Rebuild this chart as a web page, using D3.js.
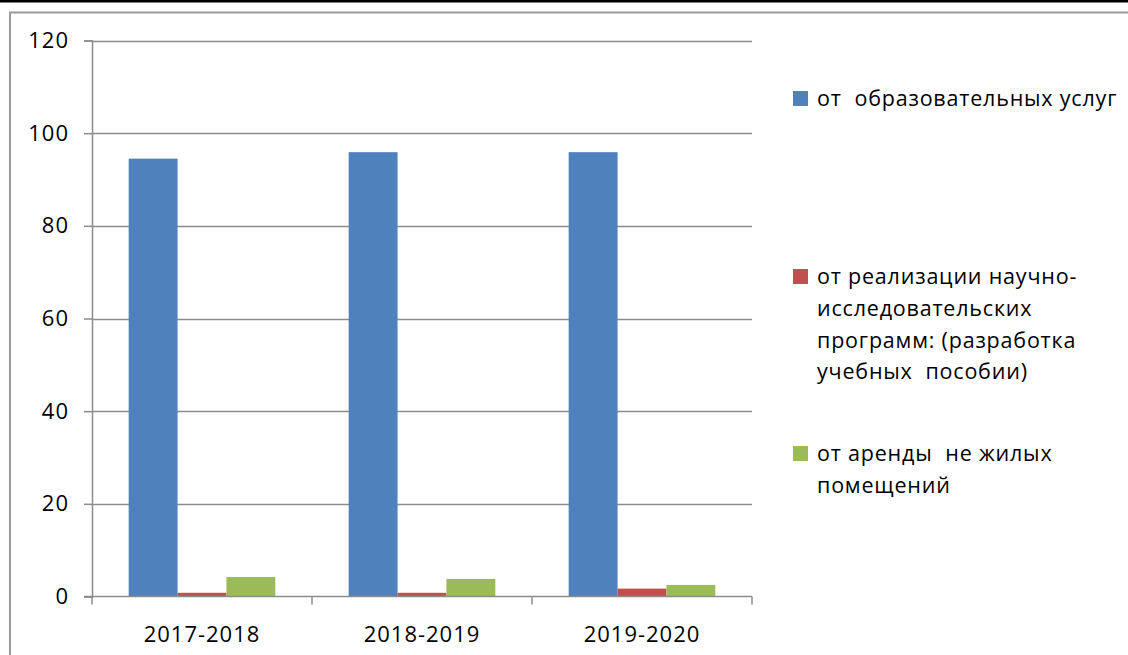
<!DOCTYPE html>
<html>
<head>
<meta charset="utf-8">
<script src="https://d3js.org/d3.v7.min.js"></script>
<style>
  body { margin: 0; background: #fff; }
  text { font-family: "Open Sans", sans-serif; fill: #000; white-space: pre; }
</style>
</head>
<body>
<script>
// Chart data
const years = ['2017-2018', '2018-2019', '2019-2020'];
const legendLines = [
  ['от  образовательных услуг'],
  ['от реализации научно-', 'исследовательских', 'программ: (разработка', 'учебных  пособии)'],
  ['от аренды  не жилых', 'помещений']
];
const eduValues = [94.5, 95.9, 95.9];
const researchValues = [0.8, 0.8, 1.7];
const rentValues = [4.2, 3.8, 2.5];
const yTicks = [0, 20, 40, 60, 80, 100, 120];
const colors = ['#4F81BD', '#C0504D', '#9BBB59'];

const width = 1128, height = 655;
const plot = { left: 92, right: 752, top: 40.5, bottom: 596.5 };

const svg = d3.select('body').append('svg')
  .attr('width', width)
  .attr('height', height);

// black strip on top and gray frame
svg.append('rect').attr('x', 0).attr('y', 0).attr('width', width).attr('height', 2.5).attr('fill', '#000');
svg.append('rect')
  .attr('x', 10).attr('y', 12.5)
  .attr('width', width + 10).attr('height', height + 10)
  .attr('fill', 'none').attr('stroke', '#9a9a9a').attr('stroke-width', 2);

const x0 = d3.scaleBand().domain(years).range([plot.left, plot.right]);
const x1 = d3.scaleBand().domain(d3.range(3))
  .range([0, x0.bandwidth()]).paddingOuter(0.75).paddingInner(0);
const y = d3.scaleLinear().domain([0, 120]).range([plot.bottom, plot.top]);

// gridlines
svg.append('g')
  .selectAll('line')
  .data(yTicks.filter(d => d > 0))
  .enter().append('line')
  .attr('x1', plot.left).attr('x2', plot.right)
  .attr('y1', d => Math.round(y(d)) + 0.5).attr('y2', d => Math.round(y(d)) + 0.5)
  .attr('stroke', '#8c8c8c').attr('stroke-width', 1.5);

// bars
const series = [eduValues, researchValues, rentValues];
series.forEach((vals, si) => {
  svg.append('g')
    .selectAll('rect')
    .data(vals)
    .enter().append('rect')
    .attr('x', (d, i) => x0(years[i]) + x1(si))
    .attr('width', x1.bandwidth())
    .attr('y', d => y(d))
    .attr('height', d => y(0) - y(d))
    .attr('fill', colors[si]);
});

// y axis
const yAxis = svg.append('g')
  .attr('transform', `translate(${plot.left},0)`)
  .call(d3.axisLeft(y).tickValues(yTicks).tickSize(8).tickPadding(15));
yAxis.select('.domain').attr('stroke', '#8c8c8c').attr('stroke-width', 1.5);
yAxis.selectAll('.tick line').attr('stroke', '#8c8c8c').attr('stroke-width', 1.5);
yAxis.selectAll('.tick text')
  .style('font-size', '22px').style('letter-spacing', '1px').attr('fill', '#000');

// x axis with ticks between categories
const xAxis = svg.append('g').attr('transform', `translate(0,${plot.bottom})`);
xAxis.append('line')
  .attr('x1', plot.left - 8).attr('x2', plot.right)
  .attr('stroke', '#8c8c8c').attr('stroke-width', 1.5);
const bounds = years.map(d => x0(d)).concat([plot.right]);
xAxis.selectAll('.xt')
  .data(bounds)
  .enter().append('line')
  .attr('x1', d => d).attr('x2', d => d)
  .attr('y1', 0).attr('y2', 8)
  .attr('stroke', '#8c8c8c').attr('stroke-width', 1.5);
xAxis.selectAll('.xl')
  .data(years)
  .enter().append('text')
  .attr('x', d => x0(d) + x0.bandwidth() / 2)
  .attr('y', 45)
  .attr('text-anchor', 'middle')
  .style('font-size', '22px')
  .style('letter-spacing', '1px')
  .text(d => d);

// legend
const legendTops = [91, 269, 446];
const legend = svg.append('g');
legendLines.forEach((lines, i) => {
  legend.append('rect')
    .attr('x', 793).attr('y', legendTops[i])
    .attr('width', 15).attr('height', 15)
    .attr('fill', colors[i]);
  lines.forEach((ln, j) => {
    legend.append('text')
      .attr('x', 817)
      .attr('y', legendTops[i] + 15 + j * 31.8)
      .style('font-size', '21.5px')
      .style('letter-spacing', '0.8px')
      .text(ln);
  });
});
</script>
</body>
</html>
